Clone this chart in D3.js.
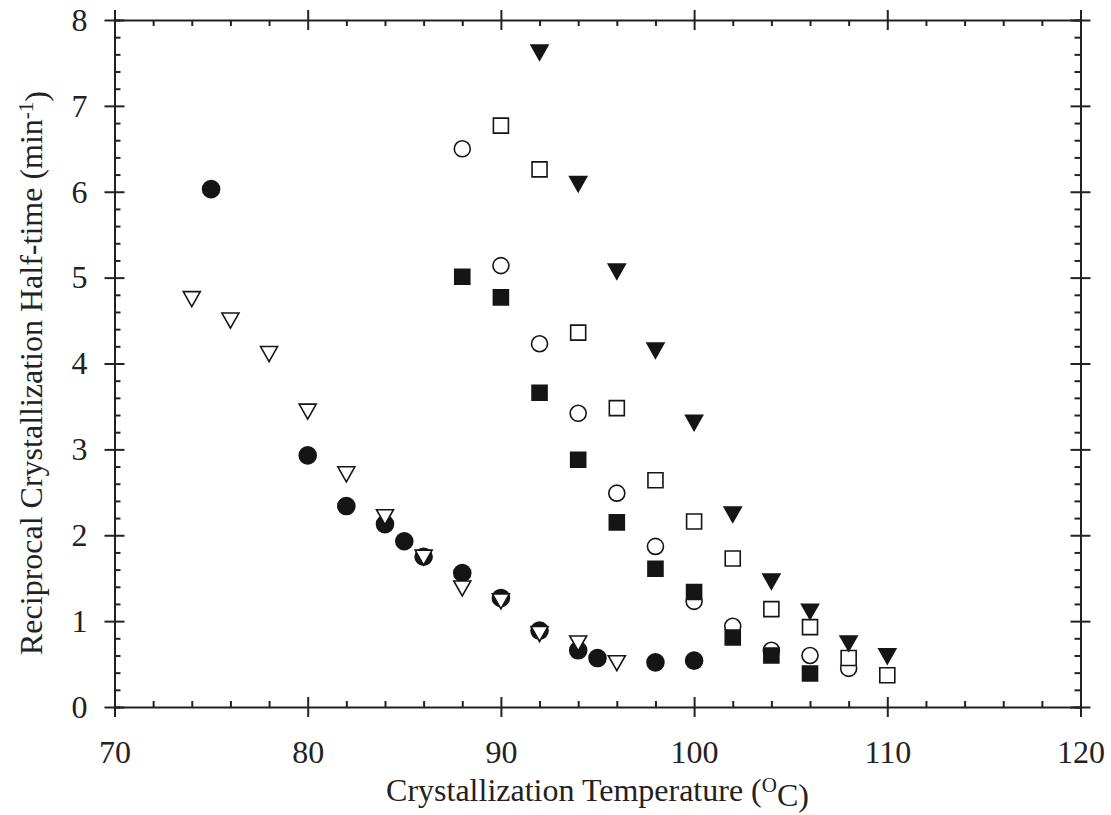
<!DOCTYPE html>
<html lang="en">
<head>
<meta charset="UTF-8">
<title>Reciprocal crystallization half-time</title>
<script src="https://d3js.org/d3.v7.min.js"></script>
<style>
    body, html { margin: 0; background: #fff; }
    svg text { font-family: "Liberation Serif", "Times New Roman", serif; fill: #222; }
    .axis path, .axis line { stroke: #222; stroke-width: 2px; }
</style>
</head>
<body>
<div id="chart"></div>
<script>
// data (temperature in C, 1/t_half in min^-1)
var filledCircleX = [75, 80, 82, 84, 85, 86, 88, 90, 92, 94, 95, 98, 100];
var filledCircleY = [6.03, 2.93, 2.34, 2.13, 1.93, 1.75, 1.56, 1.27, 0.89, 0.66, 0.57, 0.52, 0.54];

var openTriX = [74, 76, 78, 80, 82, 84, 86, 88, 90, 92, 94, 96];
var openTriY = [4.75, 4.5, 4.11, 3.44, 2.71, 2.21, 1.74, 1.38, 1.23, 0.85, 0.74, 0.51];

var openCircleX = [88, 90, 92, 94, 96, 98, 100, 102, 104, 106, 108];
var openCircleY = [6.5, 5.14, 4.23, 3.42, 2.49, 1.87, 1.23, 0.94, 0.66, 0.6, 0.45];

var filledSquareX = [88, 90, 92, 94, 96, 98, 100, 102, 104, 106];
var filledSquareY = [5.01, 4.77, 3.66, 2.88, 2.15, 1.61, 1.34, 0.81, 0.6, 0.39];

var openSquareX = [90, 92, 94, 96, 98, 100, 102, 104, 106, 108, 110];
var openSquareY = [6.77, 6.26, 4.36, 3.48, 2.64, 2.16, 1.73, 1.14, 0.93, 0.57, 0.37];

var filledTriX = [92, 94, 96, 98, 100, 102, 104, 106, 108, 110];
var filledTriY = [7.62, 6.09, 5.07, 4.15, 3.31, 2.24, 1.46, 1.11, 0.74, 0.59];

var xMajor = [70, 80, 90, 100, 110, 120];
var xMinor = d3.range(72, 120, 2).filter(function(v) { return v % 10 !== 0; });
var yMajor = [0, 1, 2, 3, 4, 5, 6, 7, 8];
var yMinor = d3.range(1, 40).map(function(i) { return i / 5; }).filter(function(v, i) { return (i + 1) % 5 !== 0; });

var width = 1111, height = 815;
var plotLeft = 114.5, plotRight = 1080.5, plotTop = 20, plotBottom = 707;

var svg = d3.select("#chart").append("svg")
    .attr("width", width)
    .attr("height", height);

var x = d3.scaleLinear().domain([70, 120]).range([plotLeft, plotRight]);
var y = d3.scaleLinear().domain([0, 8]).range([plotBottom, plotTop]);

// axes: major ticks cross the frame, minor ticks point inward
function drawAxis(axisFn, scale, pos, major, minor, labels, pad) {
    var g = svg.append("g").attr("class", "axis").attr("transform", pos);
    g.call(axisFn(scale).tickValues(minor).tickSize(-6).tickFormat(""));
    g.append("g").call(axisFn(scale).tickValues(major).tickSize(-10).tickFormat(""))
        .select(".domain").remove();
    g.append("g").call(axisFn(scale).tickValues(major).tickSize(10)
        .tickPadding(pad).tickFormat(labels ? d3.format("d") : ""))
        .select(".domain").remove();
    g.selectAll("text").style("font-size", "32px").attr("fill", "#222");
    return g;
}

drawAxis(d3.axisBottom, x, "translate(0," + plotBottom + ")", xMajor, xMinor, true, 23);
drawAxis(d3.axisTop, x, "translate(0," + plotTop + ")", xMajor, xMinor, false, 0);
drawAxis(d3.axisLeft, y, "translate(" + plotLeft + ",0)", yMajor, yMinor, true, 17);
drawAxis(d3.axisRight, y, "translate(" + plotRight + ",0)", yMajor, yMinor, false, 0);

// axis titles
var xt = svg.append("text")
    .attr("x", (plotLeft + plotRight) / 2)
    .attr("y", 801)
    .attr("text-anchor", "middle")
    .style("font-size", "32px");
xt.append("tspan").text("Crystallization Temperature (");
xt.append("tspan").attr("dy", "-0.45em").style("font-size", "21px").text("O");
xt.append("tspan").attr("dy", "0.45em").text("C)");

var yt = svg.append("text")
    .attr("transform", "translate(42," + 373 + ") rotate(-90)")
    .attr("text-anchor", "middle")
    .style("font-size", "32px");
yt.append("tspan").text("Reciprocal Crystallization Half-time (min");
yt.append("tspan").attr("dy", "-0.45em").style("font-size", "21px").text("-1");
yt.append("tspan").attr("dy", "0.45em").text(")");

function pairs(xs, ys) {
    return xs.map(function(v, i) { return { x: v, y: ys[i] }; });
}

var ink = "#151515";
var tri = "M-8.5,-7.5L8.5,-7.5L0,7.5Z";
var sq = "M-7.5,-7.5H7.5V7.5H-7.5Z";

var plot = svg.append("g");

function circles(data, fill) {
    plot.selectAll(null).data(data).enter().append("circle")
        .attr("cx", function(d) { return x(d.x); })
        .attr("cy", function(d) { return y(d.y); })
        .attr("r", fill === ink ? 8.5 : 8)
        .attr("fill", fill)
        .attr("stroke", ink)
        .attr("stroke-width", 1.6);
}

function shapes(data, d, fill) {
    plot.selectAll(null).data(data).enter().append("path")
        .attr("d", d)
        .attr("transform", function(p) { return "translate(" + x(p.x) + "," + y(p.y) + ")"; })
        .attr("fill", fill)
        .attr("stroke", ink)
        .attr("stroke-width", 1.6);
}

circles(pairs(filledCircleX, filledCircleY), ink);
shapes(pairs(openTriX, openTriY), tri, "#fff");
circles(pairs(openCircleX, openCircleY), "#fff");
shapes(pairs(filledSquareX, filledSquareY), sq, ink);
shapes(pairs(openSquareX, openSquareY), sq, "#fff");
shapes(pairs(filledTriX, filledTriY), tri, ink);
</script>
</body>
</html>
